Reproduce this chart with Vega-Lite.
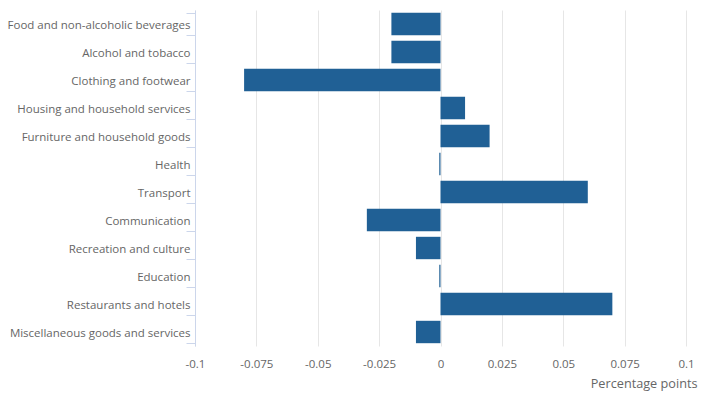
{
  "$schema": "https://vega.github.io/schema/vega-lite/v6.json",
  "autosize": "none",
  "width": 491,
  "height": 336,
  "padding": {"left": 195, "top": 10, "right": 34, "bottom": 60},
  "background": "white",
  "config": {
    "font": "Open Sans",
    "view": {"stroke": null}
  },
  "data": {
    "values": [
      {"category": "Food and non-alcoholic beverages", "value": -0.02},
      {"category": "Alcohol and tobacco", "value": -0.02},
      {"category": "Clothing and footwear", "value": -0.08},
      {"category": "Housing and household services", "value": 0.01},
      {"category": "Furniture and household goods", "value": 0.02},
      {"category": "Health", "value": -0.0005},
      {"category": "Transport", "value": 0.06},
      {"category": "Communication", "value": -0.03},
      {"category": "Recreation and culture", "value": -0.01},
      {"category": "Education", "value": -0.0005},
      {"category": "Restaurants and hotels", "value": 0.07},
      {"category": "Miscellaneous goods and services", "value": -0.01}
    ]
  },
  "mark": {"type": "bar", "color": "#206095"},
  "encoding": {
    "y": {
      "field": "category",
      "type": "nominal",
      "sort": null,
      "scale": {"paddingInner": 0.2, "paddingOuter": 0.1},
      "axis": {
        "title": null,
        "tickBand": "extent",
        "tickSize": 9,
        "tickColor": "#ccd6eb",
        "domainColor": "#ccd6eb",
        "labelPadding": -4,
        "labelFontSize": 11.5,
        "labelOffset": 1,
        "labelLimit": 300,
        "labelColor": "#666666",
        "grid": false
      }
    },
    "x": {
      "field": "value",
      "type": "quantitative",
      "scale": {"domain": [-0.1, 0.1], "nice": false, "zero": false},
      "axis": {
        "title": "Percentage points",
        "values": [-0.1, -0.075, -0.05, -0.025, 0, 0.025, 0.05, 0.075, 0.1],
        "format": "",
        "labelExpr": "datum.value == 0 ? '0' : replace(format(datum.value, '.3~f'), '−', '-')",
        "domain": false,
        "ticks": false,
        "labelPadding": 12,
        "labelFontSize": 11.5,
        "labelColor": "#666666",
        "labelFlush": false,
        "gridColor": "#e6e6e6",
        "titleFontSize": 12.7,
        "titleFontWeight": "normal",
        "titleColor": "#666666",
        "titleAnchor": "end",
        "titleAlign": "right",
        "titleX": 502,
        "titlePadding": 8
      }
    }
  }
}
